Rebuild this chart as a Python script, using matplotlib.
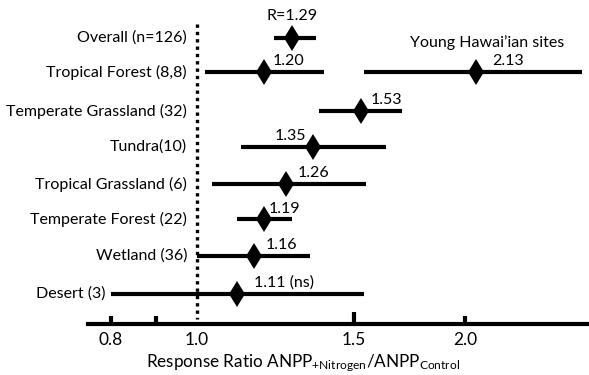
import numpy as np
import matplotlib
matplotlib.use("Agg")
import matplotlib.pyplot as plt

plt.rcParams['font.family'] = ['Lato', 'DejaVu Sans']
plt.rcParams['mathtext.fontset'] = 'custom'
plt.rcParams['mathtext.rm'] = 'Lato'
plt.rcParams['mathtext.it'] = 'Lato'

# ---- data ----
categories = ["Overall (n=126)", "Tropical Forest (8,8)", "Temperate Grassland (32)",
              "Tundra(10)", "Tropical Grassland (6)", "Temperate Forest (22)",
              "Wetland (36)", "Desert (3)"]
means = [1.28, 1.19, 1.53, 1.35, 1.26, 1.19, 1.16, 1.11]
lower = [1.22, 1.02, 1.37, 1.12, 1.04, 1.11, 1.00, 0.80]
upper = [1.36, 1.39, 1.70, 1.63, 1.55, 1.28, 1.34, 1.54]
mean_labels = ["R=1.29", "1.20", "1.53", "1.35", "1.26", "1.19", "1.16", "1.11 (ns)"]

hawaii_mean = 2.06
hawaii_lower = 1.54
hawaii_upper = 2.71
hawaii_label = "2.13"
hawaii_title = "Young Hawai\u2019ian sites"

tick_values = [0.8, 0.9, 1.0, 1.5, 2.0]
tick_labels = ["0.8", "", "1.0", "1.5", "2.0"]

# ---- layout ----
W, H = 589, 375
fig = plt.figure(figsize=(W / 100, H / 100), dpi=100)
ax = fig.add_axes([0, 0, 1, 1])
ax.set_xscale('log')
ax.set_xlim(0.601, 2.756)
ax.set_ylim(H, 0)
ax.patch.set_alpha(0)

row_y = [38, 72, 111, 147, 184, 219, 256, 294]
label_right_px = [187, 187, 187, 187, 187, 187, 187, 106]
# label offsets (points) relative to diamond: (dx, dy, ha)
lab_off = [(0, 16, 'center'), (6, 8, 'left'), (7, 8, 'left'), (-5, 8, 'right'),
           (8, 8, 'left'), (3, 7, 'left'), (8, 8, 'left'), (12, 8, 'left')]

lw_bar = 3.0
ms = 13.2
fs = 11.5

# reference line at 1.0
ax.plot([1.0, 1.0], [24, 319], color='black', lw=2.4, linestyle=(0, (1, 1.2)),
        dash_capstyle='butt', zorder=1)

for i, cat in enumerate(categories):
    y = row_y[i]
    ax.plot([lower[i], upper[i]], [y, y], color='black', lw=lw_bar,
            solid_capstyle='butt', zorder=2)
    ax.plot([means[i]], [y], marker='d', color='black', ms=ms, mew=0, zorder=3)
    dx, dy, ha = lab_off[i]
    ax.annotate(mean_labels[i], (means[i], y), xytext=(dx, dy),
                textcoords='offset points', ha=ha, va='center', fontsize=fs)
    fig.text(label_right_px[i] / W, 1 - y / H, cat, ha='right', va='center', fontsize=fs)

# Hawaii
yh = row_y[1]
ax.plot([hawaii_lower, hawaii_upper], [yh, yh], color='black', lw=lw_bar,
        solid_capstyle='butt', zorder=2)
ax.plot([hawaii_mean], [yh], marker='d', color='black', ms=ms, mew=0, zorder=3)
ax.annotate(hawaii_label, (hawaii_mean, yh), xytext=(11, 8),
            textcoords='offset points', ha='left', va='center', fontsize=fs)
fig.text(487 / W, 1 - 43 / H, hawaii_title, ha='center', va='center', fontsize=fs)

# axis
for s in ['top', 'left', 'right']:
    ax.spines[s].set_visible(False)
ax.spines['bottom'].set_position(('data', 324))
ax.spines['bottom'].set_linewidth(3)
ax.spines['bottom'].set_bounds(0.754, 2.756)
ax.set_yticks([])
ax.xaxis.set_minor_locator(matplotlib.ticker.NullLocator())
ax.set_xticks(tick_values)
ax.set_xticklabels(tick_labels)
ax.tick_params(axis='x', direction='in', length=6, width=3, pad=6, labelsize=fs + 1)
for t, v in zip(ax.xaxis.get_major_ticks(), tick_values):
    if v == 1.0:
        t.tick1line.set_markersize(0)
    elif v == 1.5:
        t.tick1line.set_markersize(9)

fig.text(303 / W, 1 - 363 / H,
         r"Response Ratio ANPP$_{\mathregular{+Nitrogen}}$/ANPP$_{\mathregular{Control}}$",
         ha='center', va='center', fontsize=fs + 0.8)

fig.savefig("out.png", dpi=100)
